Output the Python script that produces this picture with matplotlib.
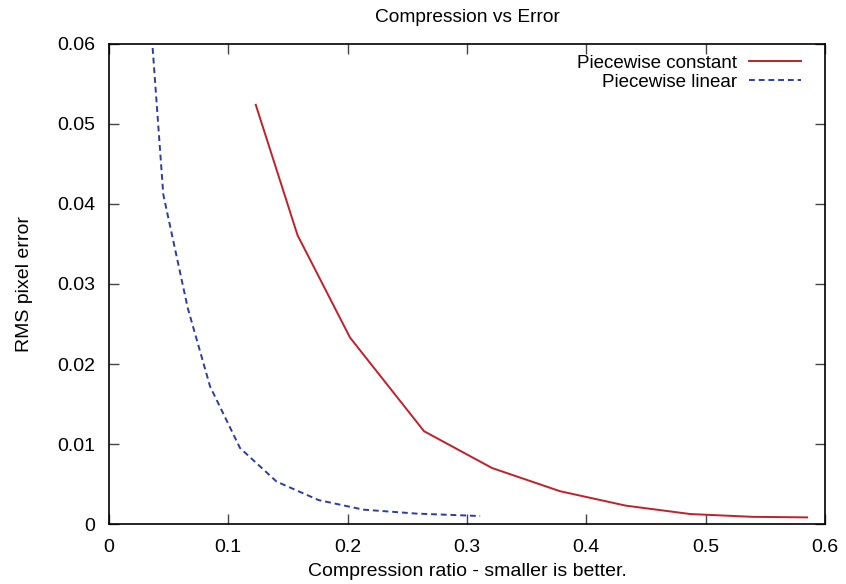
import matplotlib
matplotlib.use("Agg")
import matplotlib.pyplot as plt

# Piecewise constant
const_x = [0.123, 0.158, 0.202, 0.264, 0.321, 0.378, 0.433, 0.487, 0.539, 0.585]
const_y = [0.0524, 0.0361, 0.0233, 0.0116, 0.0070, 0.0041, 0.0023, 0.00125, 0.0009, 0.00083]

# Piecewise linear
lin_x = [0.0366, 0.0455, 0.066, 0.0847, 0.1098, 0.1405, 0.1755, 0.213, 0.258, 0.311]
lin_y = [0.0595, 0.0412, 0.0270, 0.0172, 0.0095, 0.0053, 0.0030, 0.0018, 0.0013, 0.0010]

xticks = [0, 0.1, 0.2, 0.3, 0.4, 0.5, 0.6]
yticks = [0, 0.01, 0.02, 0.03, 0.04, 0.05, 0.06]

plt.rcParams["font.family"] = ["Liberation Sans", "DejaVu Sans"]

fig = plt.figure(figsize=(8.46, 5.84), dpi=100)
ax = fig.add_axes([0.1288, 0.1027, 0.8464, 0.822])

ax.plot(const_x, const_y, color="#c0202a", lw=1.4, label="Piecewise constant")
ax.plot(lin_x, lin_y, color="#2a3ca8", lw=1.4, ls=(0, (3, 2)), label="Piecewise linear")

ax.set_xlim(0, 0.6)
ax.set_ylim(0, 0.06)
ax.set_xticks(xticks)
ax.set_yticks(yticks)
ax.set_xticklabels(["0", "0.1", "0.2", "0.3", "0.4", "0.5", "0.6"])
ax.set_yticklabels(["0", "0.01", "0.02", "0.03", "0.04", "0.05", "0.06"])
ax.tick_params(direction="in", top=True, right=True, length=7, width=1,
               labelsize=14, color="#444444")
ax.tick_params(axis="x", pad=11)
ax.tick_params(axis="y", pad=10)
for s in ax.spines.values():
    s.set_linewidth(1.2)

ax.set_title("Compression vs Error", fontsize=13.8, pad=16)
ax.set_xlabel("Compression ratio - smaller is better.", fontsize=14, labelpad=5)
ax.set_ylabel("RMS pixel error", fontsize=14, labelpad=17)

ax.legend(loc="upper right", bbox_to_anchor=(0.9665, 0.978), frameon=False,
          markerfirst=False, fontsize=13.5, handlelength=2.8, handletextpad=0.6,
          labelspacing=0.12, borderaxespad=0, borderpad=0)

fig.savefig("out.png", dpi=100)
